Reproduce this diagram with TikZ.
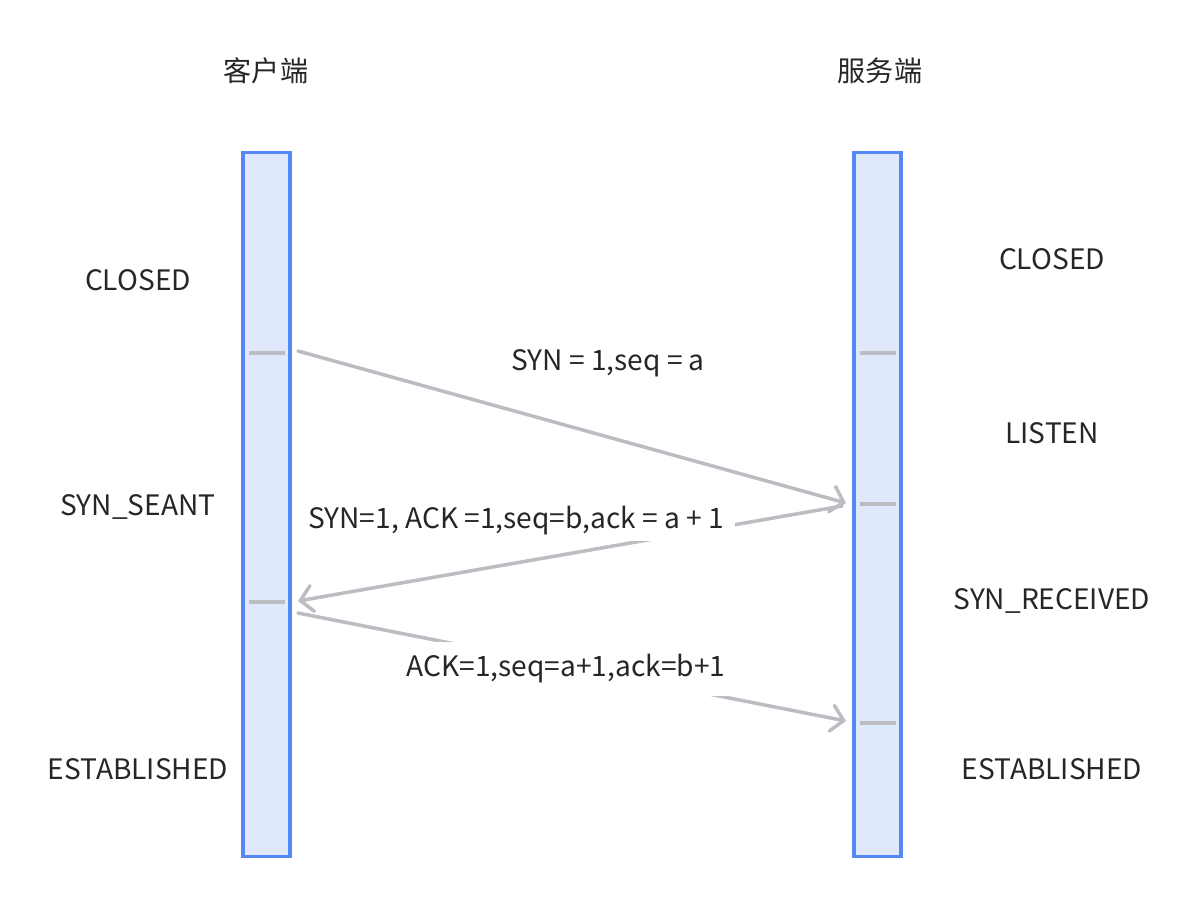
\documentclass[tikz,border=0pt]{standalone}
\usepackage{fontspec}
\setmainfont{Noto Sans CJK SC}
\usepackage{tikz}
\usetikzlibrary{arrows.meta, positioning, calc}
\usepackage{xcolor}
\definecolor{lane}{HTML}{E0E8FC}
\definecolor{laneline}{HTML}{5588F5}
\definecolor{msg}{HTML}{BCBDC3}

\begin{document}
\begin{tikzpicture}[x=0.025cm, y=-0.025cm,
      every node/.style={font=\fontsize{20}{24}\selectfont, text=black!85},
      lifeline/.style={rectangle, draw=laneline, fill=lane, line width=2.6pt,
                       minimum width=1.175cm, minimum height=17.6cm, inner sep=0pt},
      tick/.style={msg, line width=2.6pt},
      arr/.style={msg, line width=2.5pt, line cap=round,
                  -{Straight Barb[length=3mm, width=6.5mm, line cap=round]}},
      lbl/.style={fill=white, inner sep=8pt}]
      \useasboundingbox (0,0) rectangle (1200,908);
      % lifelines
      \node[lifeline] (cli) at (266.5,504.5) {};
      \node[lifeline] (srv) at (877.5,504.5) {};
      \node (clihead) at (266,71) {客户端};
      \node (srvhead) at (880,71) {服务端};
      % state ticks
      \foreach \y in {353,602} \draw[tick] (249,\y) -- (285,\y);
      \foreach \y in {353,504,723} \draw[tick] (860,\y) -- (896,\y);
      % states
      \node (cclosed) at (138,280) {CLOSED};
      \node (csent) at (138,507) {SYN\_SEANT};
      \node (cestab) at (138,769) {ESTABLISHED};
      \node (sclosed) at (1052,259) {CLOSED};
      \node (slisten) at (1052,433) {LISTEN};
      \node (srecv) at (1052,601) {SYN\_RECEIVED};
      \node (sestab) at (1052,769) {ESTABLISHED};
      % messages
      \coordinate (m1a) at (298,351);
      \coordinate (m1b) at (846,503);
      \coordinate (m2a) at (842,506);
      \coordinate (m2b) at (298,601);
      \coordinate (m3a) at (298,613);
      \coordinate (m3b) at (846,721);
      \draw[arr] (m1a) -- (m1b);
      \draw[arr] (m2a) -- (m2b);
      \draw[arr] (m3a) -- (m3b);
      \node (syn) at (608,363) {SYN = 1,seq = a};
      \node[lbl, inner ysep=4pt] (synack) at (516,521) {SYN=1, ACK =1,seq=b,ack = a + 1};
      \node[lbl, inner ysep=9pt] (ack) at (566,669) {ACK=1,seq=a+1,ack=b+1};
    \end{tikzpicture}
\end{document}
